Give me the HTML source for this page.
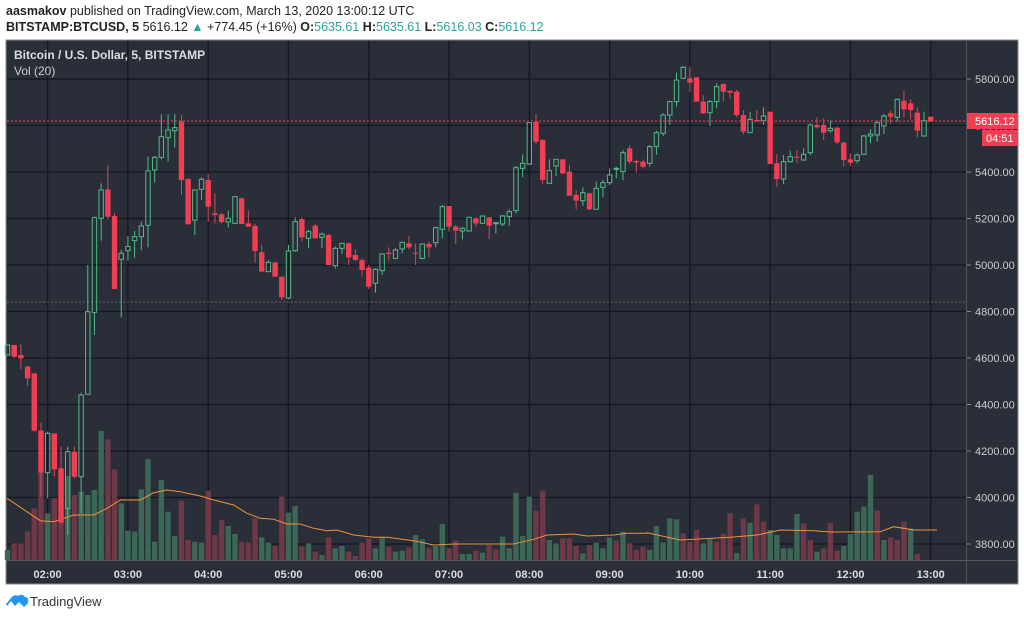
<!DOCTYPE html>
<html><head><meta charset="utf-8">
<style>
html,body{margin:0;padding:0;background:#fff;width:1024px;height:618px;overflow:hidden;font-family:"Liberation Sans",sans-serif;}
svg{position:absolute;left:0;top:0}
</style></head><body>
<svg id="s" width="1024" height="618" xmlns="http://www.w3.org/2000/svg" font-family="Liberation Sans, sans-serif">
<text x="6" y="15" font-size="12.5" fill="#222"><tspan font-weight="bold">aasmakov</tspan> published on TradingView.com, March 13, 2020 13:00:12 UTC</text>
<text x="6" y="31" font-size="12.5" fill="#222"><tspan font-weight="bold">BITSTAMP:BTCUSD, 5</tspan> 5616.12 <tspan fill="#26a69a">▲</tspan> +774.45 (+16%) <tspan font-weight="bold">O:</tspan><tspan fill="#26a69a">5635.61</tspan> <tspan font-weight="bold">H:</tspan><tspan fill="#26a69a">5635.61</tspan> <tspan font-weight="bold">L:</tspan><tspan fill="#26a69a">5616.03</tspan> <tspan font-weight="bold">C:</tspan><tspan fill="#26a69a">5616.12</tspan></text>
<rect x="6" y="40" width="1012" height="544" fill="#2a2e39" stroke="#888" stroke-width="1"/>
<g id="g"></g>
<text x="14" y="59" font-size="12" font-weight="bold" fill="#ddd">Bitcoin / U.S. Dollar, 5, BITSTAMP</text>
<text x="14" y="75" font-size="12" fill="#ccc">Vol (20)</text>
<g transform="translate(6,594)">
<path d="M0 10 L5 4 Q8 0 12 2 Q16 -1 19 3 Q23 3 22 9 L18 13 L13 8 L9 12 L5 7 L1 12 Z" fill="#2196f3"/>
</g>
<text x="30" y="606" font-size="13" fill="#333">TradingView</text>
</svg>
<script>
var NS="http://www.w3.org/2000/svg",g=document.getElementById('g');
function el(t,a){var e=document.createElementNS(NS,t);for(var k in a)e.setAttribute(k,a[k]);g.appendChild(e);return e;}
function txt(x,y,s,a){var e=el('text',Object.assign({x:x,y:y},a));e.textContent=s;return e;}
// grid
for(var p=3800;p<=5800;p+=200){var y=79+(5800-p)*0.2325;el('line',{x1:7,x2:966,y1:y,y2:y,stroke:'#131722','stroke-width':1.3});
 el('line',{x1:966,x2:971,y1:y,y2:y,stroke:'#888'});txt(975,y+4,p.toFixed(2),{'font-size':11,fill:'#ccc'});}
var hrs=['02:00','03:00','04:00','05:00','06:00','07:00','08:00','09:00','10:00','11:00','12:00','13:00'];
for(var i=0;i<12;i++){var x=47.6+i*80.28;el('line',{x1:x,x2:x,y1:41,y2:560,stroke:'#131722','stroke-width':1.3});
 txt(x,578,hrs[i],{'font-size':11,'font-weight':'bold',fill:'#ddd','text-anchor':'middle'});}
el('line',{x1:7,x2:1018,y1:560.5,y2:560.5,stroke:'#555'});
el('line',{x1:966.5,x2:966.5,y1:41,y2:584,stroke:'#555'});
el('line',{x1:7,x2:966,y1:302,y2:302,stroke:'#666','stroke-dasharray':'2,2'});
// volumes
var V4=[[1350,'g'],[1330,'r'],[1330,'r'],[1295,'r'],[1225,'r'],[1118,'r'],[1240,'g'],[1195,'r'],[1250,'r'],[1128,'g'],[1185,'r'],[1175,'g'],[1185,'g'],[1170,'g'],[993,'g'],[1018,'r'],[1108,'r'],[1210,'g'],[1292,'g'],[1295,'g'],[1168,'g'],[1078,'g'],[1325,'g'],[1140,'g'],[1235,'g'],[1308,'g'],[1202,'r'],[1320,'r'],[1325,'g'],[1328,'g'],[1172,'r'],[1305,'r'],[1260,'r'],[1278,'g'],[1302,'g'],[1325,'r'],[1328,'r'],[1255,'r'],[1312,'g'],[1328,'g'],[1338,'r'],[1190,'r'],[1238,'g'],[1218,'g'],[1340,'r'],[1330,'g'],[1355,'r'],[1365,'g'],[1312,'r'],
[1345,'g'],[1338,'g'],[1355,'r'],[1368,'r'],[1328,'r'],[1315,'r'],[1345,'g'],[1310,'g'],[1340,'r'],[1355,'g'],[1352,'g'],[1342,'r'],[1305,'g'],[1318,'g'],[1345,'r'],[1338,'g'],[1272,'g'],[1345,'r'],[1322,'r'],[1362,'g'],[1362,'g'],[1352,'r'],[1358,'g'],[1335,'r'],[1348,'r'],[1310,'g'],[1345,'g'],[1178,'g'],[1308,'g'],[1190,'g'],[1232,'r'],[1172,'r'],[1320,'g'],[1330,'g'],[1315,'r'],[1315,'r'],[1338,'r'],[1360,'g'],[1335,'r'],[1328,'g'],[1345,'g'],[1312,'g'],[1322,'r'],[1295,'g'],[1330,'r'],[1350,'r'],[1340,'r']];
var V6=[[1470,'g'],[1398,'g'],[1448,'g'],[1375,'g'],[1378,'g'],[1420,'r'],[1445,'r'],[1410,'r'],[1450,'g'],[1435,'g'],[1445,'r'],[1422,'r'],[1360,'r'],[1480,'g'],[1375,'r'],[1388,'g'],[1333,'r'],[1385,'r'],[1410,'g'],[1425,'g'],[1465,'g'],[1465,'g'],[1362,'g'],[1390,'r'],[1440,'r'],[1475,'g'],[1465,'r'],[1388,'r'],[1472,'r'],[1458,'g'],[1422,'g'],[1355,'g'],[1340,'g'],[1245,'g'],[1352,'r'],[1440,'g'],[1432,'r'],[1440,'r'],[1385,'r'],[1405,'g'],[1482,'r']];
function cx(i){return 7.5+6.69*i;}
for(var i=0;i<V4.length;i++){var t=100+V4[i][0]/3;el('rect',{x:cx(i)-2.7,y:t,width:5.4,height:560-t,fill:V4[i][1]=='g'?'#3c6656':'#6e3847'});}
for(var j=0;j<V6.length;j++){var i=96+j,t=60+V6[j][0]/3;if(t>559)t=558;el('rect',{x:cx(i)-2.7,y:t,width:5.4,height:560-t,fill:V6[j][1]=='g'?'#3c6656':'#6e3847'});}
// MA
var pts=[];
[[0,1195],[100,1262],[140,1265],[200,1245],[260,1245],[300,1225],[340,1200],[400,1200],[440,1178],[480,1170],[520,1175],[540,1180],[580,1188],[620,1200],[680,1215],[720,1240],[760,1255],[800,1258],[840,1272],[880,1272],[920,1285],[960,1292]].forEach(function(a){pts.push([a[0]/3,100+a[1]/3]);});
[[0,1292],[30,1290],[80,1305],[140,1312],[180,1312],[260,1322],[320,1335],[380,1332],[560,1332],[620,1318],[660,1305],[740,1302],[780,1308],[860,1305],[900,1300],[960,1300]].forEach(function(a){pts.push([320+a[0]/3,100+a[1]/3]);});
[[0,1418],[100,1440],[250,1432],[330,1425],[400,1410],[500,1412],[550,1416],[700,1415],[740,1400],[800,1410],[870,1410]].forEach(function(a){pts.push([640+a[0]/3,60+a[1]/3]);});
el('polyline',{points:pts.map(function(p){return (p[0]+7).toFixed(1)+','+p[1].toFixed(1)}).join(' '),fill:'none',stroke:'#f0913a','stroke-width':1});
// candles: type, body top, body bottom, wick top, wick bottom (zoom coords)
var C4=[['g',735,765,735,765],['r',735,770,735,775],['r',765,775,733,808],['r',800,835,797,858],['r',820,992,818,995],['r',992,1118,968,1190],['g',1000,1118,995,1195],['r',1000,1108,1000,1130],['r',1105,1268,1040,1268],['g',1055,1225,1040,1305],['r',1055,1130,1040,1135],['g',885,1130,878,1240],['g',635,883,495,883],['g',353,637,350,705],['g',270,355,250,422],['r',268,350,195,358],['r',348,567,340,567],['g',460,478,450,652],['g',440,452,408,482],['g',410,422,393,473],['g',378,410,365,450],['g',213,376,170,442],['g',172,210,168,247],['g',110,172,43,178],['g',90,113,43,185],['g',83,92,43,142],['r',65,240,45,285],['r',237,373,235,373],['g',270,360,268,405],['g',238,268,232,300],['r',240,320,222,365],['r',340,345,280,370],['r',343,366,340,370],['g',355,366,332,382],['g',290,370,288,372],['r',295,372,292,372],['r',370,380,332,380],['r',378,453,372,487],['r',457,515,435,515],['g',487,515,480,515],['r',487,530,485,530],['r',530,592,530,600],['g',453,594,435,598],['g',365,452,352,455],['r',357,412,352,425],['g',395,415,390,445],['r',377,415,372,415],['g',402,412,398,445],['r',405,495,402,495],
['g',445,497,440,505],['g',430,445,430,462],['r',430,472,428,495],['r',465,480,448,482],['r',480,510,475,530],['r',503,560,495,568],['g',508,550,505,578],['g',462,512,460,525],['r',458,462,442,482],['g',450,475,445,478],['g',427,447,425,460],['r',430,442,408,448],['r',458,460,430,495],['g',432,475,430,478],['r',432,442,425,472],['g',383,428,380,442],['g',320,388,315,415],['r',318,380,318,395],['r',380,392,375,432],['g',385,393,382,418],['g',352,393,352,395],['r',355,370,352,380],['g',348,370,348,372],['r',352,377,352,418],['g',368,370,368,400],['g',348,372,345,378],['g',335,350,328,378],['g',203,332,198,340],['g',190,205,163,232],['g',68,192,68,195],['r',65,125,42,133],['r',120,240,118,252],['g',212,250,178,250],['g',178,198,178,228],['r',178,220,178,222],['r',215,287,195,287],['r',285,302,270,328],['g',278,302,262,318],['r',280,328,278,330],['g',265,328,245,328],['g',248,262,240,292],['g',225,248,205,255],['g',205,208,200,235],['g',158,215,150,240],['r',145,185,135,192],['r',183,187,180,218],['r',185,200,178,205]];
var C6=[['g',260,310,255,320],['g',218,260,212,285],['g',165,220,160,228],['g',125,165,122,195],['g',60,125,38,140],['g',22,55,18,58],['r',55,68,20,95],['r',52,125,52,125],['r',125,160,105,162],['g',125,158,120,198],['g',80,125,70,145],['r',72,95,70,125],['r',92,98,92,115],['r',95,165,90,172],['r',165,215,150,222],['g',178,218,155,218],['r',180,184,150,185],['g',168,182,142,195],['r',155,312,155,312],['r',310,357,283,380],['g',305,357,285,372],['g',290,305,272,308],['r',290,293,270,308],['g',283,300,265,302],['g',195,278,190,285],['r',195,202,172,205],['r',195,218,175,240],['g',205,212,182,218],['r',203,247,200,252],['r',248,300,245,320],['r',298,308,280,318],['g',285,302,280,310],['g',228,283,225,285],['g',222,228,208,250],['g',188,225,182,245],['g',168,198,162,222],['r',160,170,152,190],['g',118,172,115,185],['r',122,148,92,172],['r',130,150,118,178],['r',158,212,142,232],['g',182,228,155,228],['r',170,185,170,185]];
function cand(i,c,off){var x=cx(i),bt=off+c[1]/3,bb=off+c[2]/3,wt=off+c[3]/3,wb=off+c[4]/3;if(bb-bt<1)bb=bt+1;
 if(c[0]=='g'){el('line',{x1:x,x2:x,y1:wt,y2:bt,stroke:'#53b987'});el('line',{x1:x,x2:x,y1:bb,y2:wb,stroke:'#53b987'});
  el('rect',{x:x-2.2,y:bt,width:4.4,height:bb-bt,fill:'none',stroke:'#53b987','stroke-width':1});}
 else{el('line',{x1:x,x2:x,y1:wt,y2:wb,stroke:'#c9505c'});el('rect',{x:x-2.7,y:bt,width:5.4,height:bb-bt,fill:'#f23e52'});}}
for(var i=0;i<C4.length;i++)cand(i,C4[i],100);
for(var j=0;j<C6.length;j++)cand(96+j,C6[j],60);
// last price line
el('line',{x1:7,x2:966,y1:121,y2:121,stroke:'#f23e52','stroke-dasharray':'2,2','stroke-width':1});
el('rect',{x:967,y:113,width:51,height:16,fill:'#f23e52'});
txt(975,125,'5616.12',{'font-size':11,fill:'#fff'});
el('rect',{x:982,y:130,width:36,height:16,fill:'#f23e52'});
txt(986,142,'04:51',{'font-size':11,fill:'#fff'});
</script>
</body></html>
